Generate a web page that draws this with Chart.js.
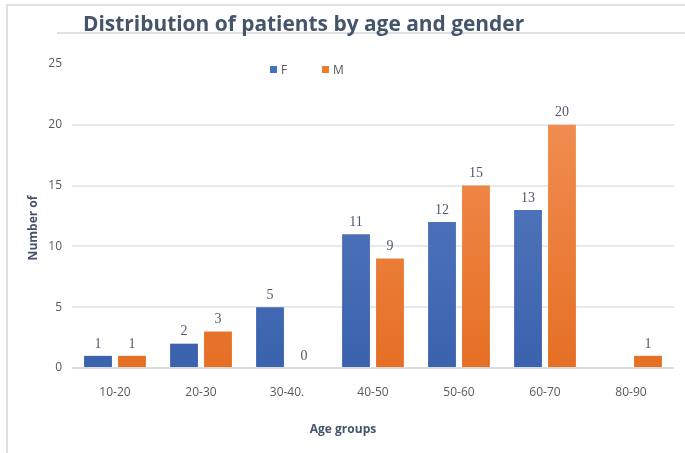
<!DOCTYPE html>
<html>
<head>
<meta charset="utf-8">
<script src="https://cdn.jsdelivr.net/npm/chart.js@4.4.0/dist/chart.umd.min.js"></script>
<style>
  html, body { margin: 0; padding: 0; background: #fff; }
  #wrap { width: 685px; height: 453px; position: relative; }
</style>
</head>
<body>
<div id="wrap"><canvas id="myChart" width="685" height="453"></canvas></div>
<script>
const ageGroups = ['10-20', '20-30', '30-40.', '40-50', '50-60', '60-70', '80-90'];
const female = [1, 2, 5, 11, 12, 13, null];
const male = [1, 3, 0, 9, 15, 20, 1];
const yTicks = [0, 5, 10, 15, 20, 25];

const titleColor = '#44546A';
const tickColor = '#595959';

function grad(ctx, top, bottom) {
  const area = ctx.chart.chartArea;
  if (!area) return bottom;
  const g = ctx.chart.ctx.createLinearGradient(0, area.top, 0, area.bottom);
  g.addColorStop(0, top);
  g.addColorStop(1, bottom);
  return g;
}

// frame, title, legend, axis titles, value labels
const decor = {
  id: 'decor',
  beforeDraw(chart) {
    const c = chart.ctx;
    c.save();
    c.fillStyle = '#fff';
    c.fillRect(0, 0, chart.width, chart.height);
    c.strokeStyle = '#DDE1E6';
    c.lineWidth = 2;
    c.beginPath();
    c.moveTo(7, chart.height);
    c.lineTo(7, 5);
    c.lineTo(chart.width, 5);
    c.stroke();
    c.beginPath();
    c.moveTo(57, 33);
    c.lineTo(chart.width, 33);
    c.stroke();
    c.restore();
  },
  afterDatasetsDraw(chart) {
    const c = chart.ctx;
    c.save();
    // title (slightly condensed)
    c.fillStyle = titleColor;
    c.font = 'bold 22px "Open Sans"';
    c.textBaseline = 'alphabetic';
    c.textAlign = 'left';
    c.translate(83, 31);
    c.scale(0.95, 1);
    c.fillText('Distribution of patients by age and gender', 0, 0);
    c.restore();
    c.save();
    // legend
    const items = [['F', '#4472C4', 270], ['M', '#ED7D31', 322]];
    c.font = '12px "Open Sans"';
    c.textBaseline = 'middle';
    items.forEach(it => {
      c.fillStyle = it[1];
      c.fillRect(it[2], 66, 7, 7);
      c.fillStyle = tickColor;
      c.fillText(it[0], it[2] + 11, 71);
    });
    // axis titles
    c.fillStyle = titleColor;
    c.font = 'bold 12px "Open Sans"';
    c.textAlign = 'center';
    c.fillText('Age groups', 343, 430);
    c.translate(34, 228);
    c.rotate(-Math.PI / 2);
    c.fillText('Number of', 0, 0);
    c.restore();
    // value labels
    c.save();
    c.font = '14px "Liberation Serif"';
    c.fillStyle = '#4F5B6B';
    c.textAlign = 'center';
    c.textBaseline = 'bottom';
    chart.data.datasets.forEach((ds, i) => {
      chart.getDatasetMeta(i).data.forEach((bar, j) => {
        if (ds.data[j] === null) return;
        c.fillText(String(ds.data[j]), bar.x, bar.y - 5);
      });
    });
    c.restore();
  }
};

new Chart(document.getElementById('myChart').getContext('2d'), {
  type: 'bar',
  data: {
    labels: ageGroups,
    datasets: [{
      label: 'F',
      data: female,
      backgroundColor: ctx => grad(ctx, '#5E80C4', '#3A62AD'),
      barPercentage: 0.82,
      categoryPercentage: 0.79
    }, {
      label: 'M',
      data: male,
      backgroundColor: ctx => grad(ctx, '#F3945A', '#E56F24'),
      barPercentage: 0.82,
      categoryPercentage: 0.79
    }]
  },
  options: {
    responsive: false,
    animation: false,
    layout: { padding: { left: 32, right: 11, top: 64, bottom: 45 } },
    plugins: {
      legend: { display: false },
      title: { display: false },
      tooltip: { enabled: false }
    },
    scales: {
      x: {
        grid: { display: false },
        border: { display: false },
        ticks: { color: tickColor, font: { family: 'Open Sans', size: 12 }, padding: 9 },
        afterFit: s => { s.height = 40; }
      },
      y: {
        min: 0,
        max: 25,
        afterBuildTicks: s => { s.ticks = yTicks.map(v => ({ value: v })); },
        border: { display: false },
        grid: {
          drawTicks: false,
          lineWidth: 2,
          color: ctx => ctx.tick.value === 25 ? 'rgba(0,0,0,0)' : (ctx.tick.value === 0 ? '#D9DCE1' : '#E6E9EE')
        },
        ticks: { color: tickColor, font: { family: 'Open Sans', size: 12 }, padding: 10 },
        afterFit: s => { s.width = 40; }
      }
    }
  },
  plugins: [decor]
});
</script>
</body>
</html>
